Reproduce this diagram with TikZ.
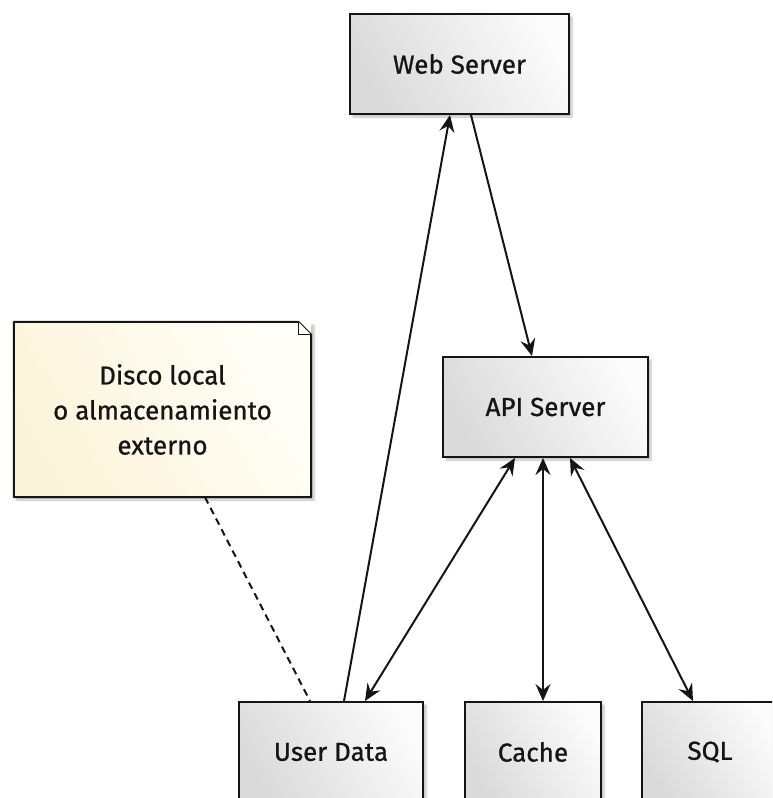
\documentclass[tikz,border=0pt]{standalone}
\usepackage{fontspec}
\setmainfont{Fira Sans}[FakeBold=0.8]
\usetikzlibrary{arrows.meta,shadows.blur,calc}

\definecolor{inkc}{HTML}{151515}
\definecolor{boxlight}{HTML}{FBFBFB}
\definecolor{boxdark}{HTML}{DADADA}
\definecolor{notelight}{HTML}{FFFEF8}
\definecolor{notedark}{HTML}{FCF4DA}

\tikzset{
  x=1pt, y=-1pt,
  every node/.style={font=\fontsize{26}{35}\selectfont, text=inkc},
  server/.style={
    draw=inkc, line width=2pt, minimum height=100pt, inner sep=0pt,
    left color=boxlight, right color=boxdark, shading angle=-60,
    blur shadow={shadow xshift=3pt, shadow yshift=-3pt, shadow blur steps=6, shadow opacity=25}
  },
  notebody/.style={
    minimum width=297pt, minimum height=175pt, inner sep=0pt, align=center,
    left color=notelight, right color=notedark, shading angle=-60,
    blur shadow={shadow xshift=3pt, shadow yshift=-3pt, shadow blur steps=6, shadow opacity=25}
  },
  link/.style={draw=inkc, line width=2pt},
  oneway/.style={link, -{Stealth[length=17pt, width=15pt, inset=6pt]}},
  twoway/.style={link, {Stealth[length=17pt, width=15pt, inset=6pt]}-{Stealth[length=17pt, width=15pt, inset=6pt]}},
  anchorline/.style={draw=inkc, line width=2pt, dash pattern=on 7pt off 5pt}
}

\begin{document}
\begin{tikzpicture}
  \useasboundingbox (0,0) rectangle (772,798);
  \clip (0,0) rectangle (772,798);

  % components
  \node[server, minimum width=219pt] (web)   at (459.5,64)  {Web Server};
  \node[server, minimum width=205pt] (api)   at (545.5,407) {API Server};
  \node[server, minimum width=184pt] (user)  at (331,752)   {User Data};
  \node[server, minimum width=136pt] (cache) at (533,752)   {Cache};
  \node[server, minimum width=136pt] (sql)   at (710,752)   {SQL};

  % note with folded corner
  \node[notebody] (note) at (162.5,409.5) {Disco local\\o almacenamiento\\externo};
  \draw[inkc, line width=2pt, line join=round]
    (note.south west) -- (note.north west) -- ([xshift=-13pt]note.north east)
    -- ([yshift=-13pt]note.north east) -- (note.south east) -- cycle;
  \draw[inkc, line width=1.3pt, fill=white]
    ([xshift=-13pt]note.north east) -- ([xshift=-13pt,yshift=-13pt]note.north east)
    -- ([yshift=-13pt]note.north east);

  % connectors
  \draw[oneway] ([xshift=13pt]user.north) -- ([xshift=-9.5pt]web.south);
  \draw[oneway] ([xshift=11.5pt]web.south) -- ([xshift=-13.5pt]api.north);
  \draw[twoway] ([xshift=-30.5pt]api.south) -- ([xshift=34pt]user.north);
  \draw[twoway] ([xshift=-2.5pt]api.south) -- ([xshift=10pt]cache.north);
  \draw[twoway] ([xshift=24.5pt]api.south) -- ([xshift=-17pt]sql.north);
  \draw[anchorline] ([xshift=42.5pt]note.south) -- ([xshift=-21pt]user.north);
\end{tikzpicture}
\end{document}
